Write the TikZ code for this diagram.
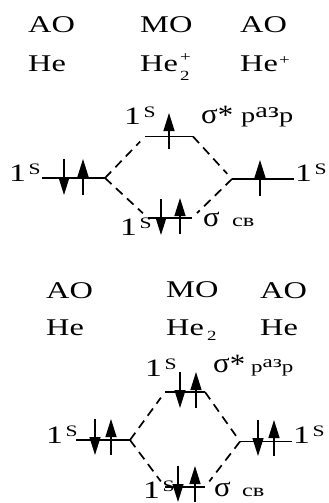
\documentclass[tikz,border=0pt]{standalone}
\usepackage{fontspec}
\usepackage{tikz}
\usetikzlibrary{arrows.meta,positioning}
\setmainfont[FakeStretch=1.35]{Liberation Serif}
\newfontfamily\plainf[FakeStretch=1.1]{Liberation Serif}
\tikzset{
  >={Triangle[length=18pt,width=11pt]},
  lvl/.style={line width=1.5pt,black},
  lnk/.style={line width=1.7pt,black,dash pattern=on 9pt off 6pt,shorten >=7pt},
  spin/.style={line width=1.3pt,black,->},
  head/.style={anchor=base west,inner sep=0pt,font=\fontsize{24}{26}\selectfont},
  lab/.style={anchor=base west,inner sep=0pt,font=\fontsize{25}{27}\selectfont},
  sgm/.style={anchor=base west,inner sep=0pt,font=\plainf\fontsize{28}{30}\selectfont},
  sm/.style={anchor=base west,inner sep=0pt,font=\fontsize{18}{20}\selectfont},
  smw/.style={sm,font=\fontsize{21}{23}\selectfont},
  smb/.style={sm,font=\fontsize{17}{19}\selectfont},
  idx/.style={anchor=base west,inner sep=0pt,font=\fontsize{14}{15}\selectfont},
}
\newcommand{\ones}{1\hspace{2.5pt}\raisebox{6.5pt}{\fontsize{16}{18}\selectfont S}}
\newcommand{\razr}{р\raisebox{5pt}{аз}р}
% up and down electrons at x, centre y
\newcommand{\eup}[2]{\draw[spin] (#1,#2+18) -- (#1,#2-18);}
\newcommand{\edn}[2]{\draw[spin] (#1,#2-18) -- (#1,#2+18);}

\begin{document}
\begin{tikzpicture}[x=1pt,y=-1pt]
\useasboundingbox (0,0) rectangle (329,503);

% ================= He2+ =================
\node[head] (aoa) at (28,33) {AO};
\node[head] (moa) at (140,33) {MO};
\node[head] (aob) at (240,33) {AO};
\node[head] (hea) at (28,71) {He};
\node[head] (hema) at (140,71) {He};
\node[idx] (hemasup) at (180,62) {+};
\node[idx] (hemasub) at (180,81) {2};
\node[head] (heb) at (240,71) {He};
\node[idx] (hebsup) at (279,64) {+};
% levels
\coordinate (la) at (42,178); \coordinate (lb) at (105,178);
\coordinate (ra) at (232,179); \coordinate (rb) at (294,179);
\coordinate (ta) at (145,136.5); \coordinate (tb) at (193,136.5);
\coordinate (ba) at (148,218); \coordinate (bb) at (192,218);
\draw[lvl] (la) -- (lb); \draw[lvl] (ra) -- (rb);
\draw[lvl] (ta) -- (tb); \draw[lvl] (ba) -- (bb);
\draw[lnk] (lb) -- (ta); \draw[lnk] (tb) -- (ra);
\draw[lnk] (lb) -- (ba); \draw[lnk] (ra) -- (bb);
% electrons
\edn{64}{177} \eup{83}{177} \eup{169}{131} \eup{260}{178} \edn{161}{217} \eup{180}{216}
% labels
\node[lab] (sla) at (9,181) {\ones};
\node[lab] (sta) at (124,124) {\ones};
\node[lab] (sra) at (295,181) {\ones};
\node[lab] (sba) at (120,235) {\ones};
\node[sgm] (sga) at (201,123) {σ\raisebox{-1pt}{*}};
\node[smw] (rza) at (241,122) {\razr};
\node[sgm] (sgb) at (203,226) {σ};
\node[sm] (cva) at (232,226) {св};

% ================= He2 =================
\node[head] (aoc) at (46,298) {AO};
\node[head] (mob) at (166,297) {MO};
\node[head] (aod) at (260,298) {AO};
\node[head] (hec) at (46,335) {He};
\node[head] (hemb) at (166,335) {He};
\node[idx] (hembsub) at (207,340) {2};
\node[head] (hed) at (260,335) {He};
% levels
\coordinate (lc) at (76,440); \coordinate (ld) at (130,440);
\coordinate (rc) at (240,441.5); \coordinate (rd) at (292,441.5);
\coordinate (tc) at (165,392); \coordinate (td) at (205,392);
\coordinate (bc) at (165,487); \coordinate (bd) at (205,487);
\draw[lvl] (lc) -- (ld); \draw[lvl] (rc) -- (rd);
\draw[lvl] (tc) -- (td); \draw[lvl] (bc) -- (bd);
\draw[lnk] (ld) -- (tc); \draw[lnk] (td) -- (rc);
\draw[lnk] (ld) -- (bc); \draw[lnk] (rc) -- (bd);
% electrons
\edn{95}{437} \eup{111}{437} \edn{180}{390} \eup{196}{390} \edn{258}{438} \eup{274}{438} \edn{178}{484} \eup{195}{484}
% labels
\node[lab] (slb) at (46,443) {\ones};
\node[lab] (stb) at (145,376) {\ones};
\node[lab] (srb) at (293,443) {\ones};
\node[lab] (sbb) at (143,498) {\ones};
\node[sgm] (sgc) at (213,372) {σ\raisebox{-1pt}{*}};
\node[smb] (rzb) at (251,372) {\razr};
\node[sgm] (sgd) at (214,496) {σ};
\node[sm] (cvb) at (242,496) {св};
\end{tikzpicture}
\end{document}
